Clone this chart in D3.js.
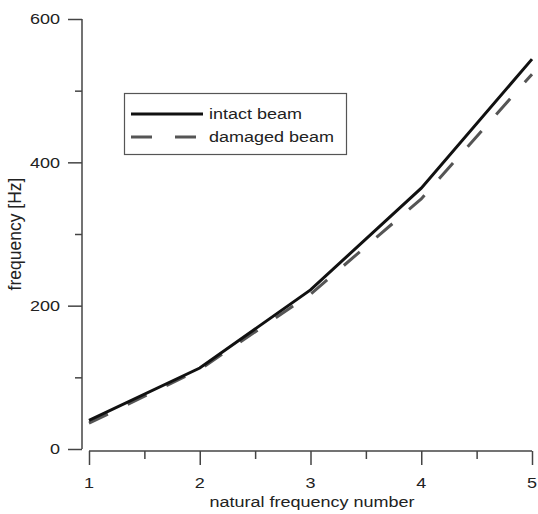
<!DOCTYPE html>
<html>
    <head>
        <script type="text/javascript" src="https://cdn.jsdelivr.net/npm/d3@7"></script>
        <style type="text/css">
            body { margin: 0; background: white; }
            text {
                font-family: Arial, "Liberation Sans", sans-serif;
                fill: #222;
            }
        </style>
    </head>
    <body>
        <script type="text/javascript">

            // data
            var modes = [1, 2, 3, 4, 5];
            var intact = [40, 113, 222, 364, 544];
            var damaged = [36, 111, 216, 349, 523];
            var yTicks = [0, 200, 400, 600];
            var seriesNames = ["intact beam", "damaged beam"];

            var w = 538, h = 514;
            var stretch = "scale(1.2,1)";   // the text in the picture is a little wide

            var x = d3.scaleLinear().domain([1, 5]).range([89, 532]);
            var y = d3.scaleLinear().domain([0, 600]).range([449, 19]);

            var svg = d3.select("body")
                        .append("svg")
                        .attr("width", w)
                        .attr("height", h);

            // y axis: major ticks labelled, minor ticks between
            var yAxis = svg.append("g").attr("transform", "translate(82,0)");
            yAxis.call(d3.axisLeft(y).tickValues(d3.range(0, 601, 100)).tickSize(7).tickFormat(""));
            yAxis.call(function(g) {
                g.selectAll(".tick line").filter(function(d) { return yTicks.indexOf(d) >= 0; })
                    .attr("x2", -14);
                g.selectAll(".domain").attr("d", "M0," + y(0) + "V" + y(600));
                g.selectAll("path, line").attr("stroke", "#444").attr("stroke-width", 1.5);
            });
            yAxis.selectAll(".ylab")
                .data(yTicks)
                .enter()
                .append("text")
                .attr("transform", function(d) { return "translate(-22," + y(d) + ") " + stretch; })
                .attr("dy", "0.36em")
                .attr("text-anchor", "end")
                .style("font-size", "15px")
                .text(function(d) { return d; });

            // x axis
            var xAxis = svg.append("g").attr("transform", "translate(0,451)");
            xAxis.call(d3.axisBottom(x).tickValues(d3.range(1, 5.01, 0.5)).tickSize(8).tickFormat(""));
            xAxis.call(function(g) {
                g.selectAll(".tick line").filter(function(d) { return modes.indexOf(d) >= 0; })
                    .attr("y2", 14);
                g.selectAll(".domain").attr("d", "M" + x(1) + ",0H" + x(5));
                g.selectAll("path, line").attr("stroke", "#444").attr("stroke-width", 1.5);
            });
            xAxis.selectAll(".xlab")
                .data(modes)
                .enter()
                .append("text")
                .attr("transform", function(d) { return "translate(" + x(d) + ",37) " + stretch; })
                .attr("text-anchor", "middle")
                .style("font-size", "15px")
                .text(function(d) { return d; });

            // axis titles
            svg.append("text")
                .attr("transform", "translate(312,507) " + stretch)
                .attr("text-anchor", "middle")
                .style("font-size", "15px")
                .text("natural frequency number");

            svg.append("text")
                .attr("transform", "translate(21," + y(300) + ") rotate(-90)")
                .attr("text-anchor", "middle")
                .style("font-size", "17.5px")
                .text("frequency [Hz]");

            // lines
            var line = d3.line()
                         .x(function(d, i) { return x(modes[i]); })
                         .y(function(d) { return y(d); });

            svg.append("path")
                .datum(damaged)
                .attr("fill", "none")
                .attr("stroke", "#555")
                .attr("stroke-width", 3)
                .attr("stroke-dasharray", "21,22")
                .attr("d", line);

            svg.append("path")
                .datum(intact)
                .attr("fill", "none")
                .attr("stroke", "#111")
                .attr("stroke-width", 3)
                .attr("d", line);

            // legend
            var legend = svg.append("g");
            legend.append("rect")
                .attr("x", 124.5)
                .attr("y", 93.5)
                .attr("width", 222)
                .attr("height", 61)
                .attr("fill", "white")
                .attr("stroke", "#555")
                .attr("stroke-width", 1.2);

            var items = legend.selectAll("g.item")
                .data(seriesNames)
                .enter()
                .append("g")
                .attr("class", "item")
                .attr("transform", function(d, i) { return "translate(0," + (114 + i * 23) + ")"; });

            items.append("line")
                .attr("x1", 131)
                .attr("x2", 203)
                .attr("stroke", function(d, i) { return i == 0 ? "#111" : "#555"; })
                .attr("stroke-width", 3)
                .attr("stroke-dasharray", function(d, i) { return i == 0 ? null : "21,23"; });

            items.append("text")
                .attr("transform", "translate(209,0) " + stretch)
                .attr("dy", "0.35em")
                .style("font-size", "15px")
                .text(function(d) { return d; });

        </script>
    </body>
</html>
